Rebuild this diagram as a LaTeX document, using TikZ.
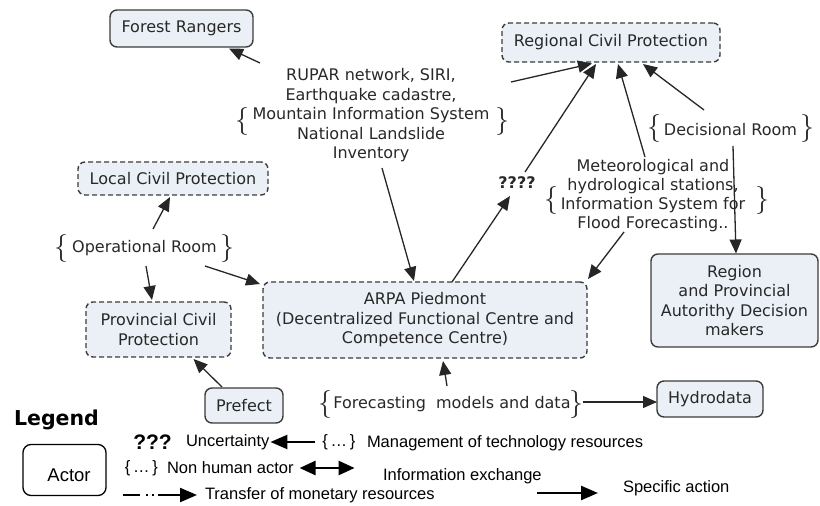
\documentclass[tikz,border=0pt]{standalone}
\usepackage{fontspec}
\setmainfont{DejaVu Sans}
\newfontfamily\legfont{Liberation Sans}
\usepackage{graphicx}
\usetikzlibrary{arrows.meta}
\definecolor{boxfill}{RGB}{234,240,245}
\definecolor{txt}{RGB}{40,40,40}
\definecolor{edge}{RGB}{60,60,60}
\newcommand\lbr{\scalebox{2.8}{$\{$}}
\newcommand\rbr{\scalebox{2.8}{$\}$}}
\begin{document}
\begin{tikzpicture}[x=1pt,y=-1pt,
  every node/.style={inner sep=0pt,outer sep=0pt},
  main/.style={font=\fontsize{16}{19.5}\selectfont,text=txt,align=center},
  actor/.style={main,draw=edge,fill=boxfill,rounded corners=7pt,line width=1.4pt},
  dashedactor/.style={actor,dash pattern=on 5pt off 3pt},
  bracenode/.style={text=txt},
  arr/.style={draw=black!85,line width=1.3pt,-{Triangle[length=14pt,width=12pt]}},
  leg/.style={font=\legfont\fontsize{16.5}{19}\selectfont,text=black},
  legarr/.style={draw=black,line width=2.4pt,-{Triangle[length=17pt,width=14pt]}},
  legdbl/.style={draw=black,line width=2.6pt,{Triangle[length=16pt,width=14pt]}-{Triangle[length=16pt,width=14pt]}},
  legdash/.style={draw=black,line width=2.2pt,dash pattern=on 17pt off 6pt on 1.8pt off 4pt on 1.8pt off 4pt on 60pt,-{Triangle[length=17pt,width=14pt]}}
]
\useasboundingbox (0,0) rectangle (820,506);

% boxes
\node[actor,minimum width=143,minimum height=37] (fr) at (181.5,28.5) {Forest Rangers};
\node[dashedactor,minimum width=218,minimum height=39] (rcp) at (611,42.5) {Regional Civil Protection};
\node[dashedactor,minimum width=190,minimum height=33] (lcp) at (173,178.5) {Local Civil Protection};
\node[dashedactor,minimum width=145,minimum height=55] (pcp) at (158.5,329.5) {Provincial Civil\\Protection};
\node[actor,minimum width=78,minimum height=35] (pre) at (244,405.5) {Prefect};
\node[dashedactor,minimum width=324,minimum height=76] (arpa) at (425,320) {ARPA Piedmont\\(Decentralized Functional Centre and\\Competence Centre)};
\node[actor,minimum width=167,minimum height=93] (rpa) at (734.5,300.5) {Region\\and Provincial\\Autorithy Decision\\makers};
\node[actor,minimum width=106,minimum height=36] (hyd) at (710,399) {Hydrodata};

% non human actors
\node[main] (rupar) at (371,115.5) {RUPAR network, SIRI,\\Earthquake cadastre,\\Mountain Information System\\National Landslide\\Inventory};
\node[main,font=\fontsize{16}{19}\selectfont] (met) at (653,196) {Meteorological and\\hydrological stations,\\Information System for\\Flood Forecasting..};
\node[main] (ops) at (144.5,248) {Operational Room};
\node[main] (dec) at (730.5,130) {Decisional Room};
\node[main] (fcst) at (452,404) {Forecasting\ \ models and data};
\node[main,font=\bfseries\fontsize{16}{19.5}\selectfont] (q4) at (517,183) {????};

% braces
\node[bracenode] (rupar-l) at (242,121) {\lbr};
\node[bracenode] (rupar-r) at (502,121) {\rbr};
\node[bracenode] (met-l) at (551,200) {\lbr};
\node[bracenode] (met-r) at (762,200) {\rbr};
\node[bracenode] (ops-l) at (61,248) {\lbr};
\node[bracenode] (ops-r) at (227,248) {\rbr};
\node[bracenode] (dec-l) at (654,128) {\lbr};
\node[bracenode] (dec-r) at (807,128) {\rbr};
\node[bracenode] (fcst-l) at (325,404) {\lbr};
\node[bracenode] (fcst-r) at (576,404) {\rbr};

% connectors
\draw[arr] ([shift={(-111,-52.5)}]rupar.center) -- ([shift={(47.5,1.5)}]fr.south);
\draw[arr] ([shift={(140,-33.5)}]rupar.center) -- ([shift={(-19,1.5)}]rcp.south);
\draw[arr] ([shift={(11,52.5)}]rupar.center) -- ([shift={(-11,-1)}]arpa.north);
\draw[arr] ([shift={(27,0)}]arpa.north) -- ([shift={(-7,13)}]q4.center);
\draw[arr] ([shift={(8,-11)}]q4.center) -- ([shift={(-15,2)}]rcp.south);
\draw[arr] ([shift={(-8,-39)}]met.center) -- ([shift={(7,2)}]rcp.south);
\draw[arr] ([shift={(-26.5,-20)}]dec.center) -- ([shift={(32,2)}]rcp.south);
\draw[arr] ([shift={(2.5,16)}]dec.center) -- ([shift={(1.5,-0.5)}]rpa.north);
\draw[arr] ([shift={(-29,36)}]met.center) -- ([shift={(1,-3)}]arpa.north east);
\draw[arr] ([shift={(8.5,-19)}]ops.center) -- ([shift={(-3,2)}]lcp.south);
\draw[arr] ([shift={(1.5,18)}]ops.center) -- ([shift={(-6.5,-2)}]pcp.north);
\draw[arr] ([shift={(60.5,18)}]ops.center) -- ([shift={(-3,2)}]arpa.north west);
\draw[arr] ([shift={(-22,-1)}]pre.north) -- ([shift={(35,2)}]pcp.south);
\draw[arr] ([shift={(-5,-18)}]fcst.center) -- ([shift={(18,3)}]arpa.south);
\draw[arr] ([shift={(131,-2)}]fcst.center) -- ([shift={(0,3)}]hyd.west);

% legend
\node[font=\bfseries\fontsize{20.5}{24}\selectfont] (leg) at (56.5,420) {Legend};
\node[draw=black,fill=white,rounded corners=8pt,line width=1.3pt,minimum width=83,minimum height=51] (actbox) at (64.5,470) {};
\node[leg,font=\legfont\fontsize{18.5}{22}\selectfont] (acttxt) at (69,475) {Actor};
\node[leg,font=\legfont\bfseries\fontsize{21}{24}\selectfont] (q3) at (152.5,442) {???};
\node[leg,anchor=west] (unc) at (186,442) {Uncertainty};
\node[leg] (mb) at (339,442) {\{\,…\,\}};
\node[leg,anchor=west] (mgmt) at (367,443) {Management of technology resources};
\draw[legarr] ([xshift=-7pt]mb.west) -- ([xshift=1pt]unc.east);
\node[leg] (nb) at (141.5,468) {\{\,…\,\}};
\node[leg,anchor=west] (nh) at (167,468) {Non human actor};
\draw[legdbl] ([xshift=6pt]nh.east) -- ([xshift=61pt]nh.east);
\node[leg,anchor=west] (info) at (383,476) {Information exchange};
\node[leg,anchor=west] (tr) at (205,495) {Transfer of monetary resources};
\coordinate (tm) at (123,495);
\draw[legdash] (tm) -- ([xshift=-8pt]tr.west);
\node[leg,anchor=west] (sa) at (623,488) {Specific action};
\coordinate (sa0) at (537,493);
\coordinate (sa1) at (598,493);
\draw[legarr] (sa0) -- (sa1);
\end{tikzpicture}
\end{document}
